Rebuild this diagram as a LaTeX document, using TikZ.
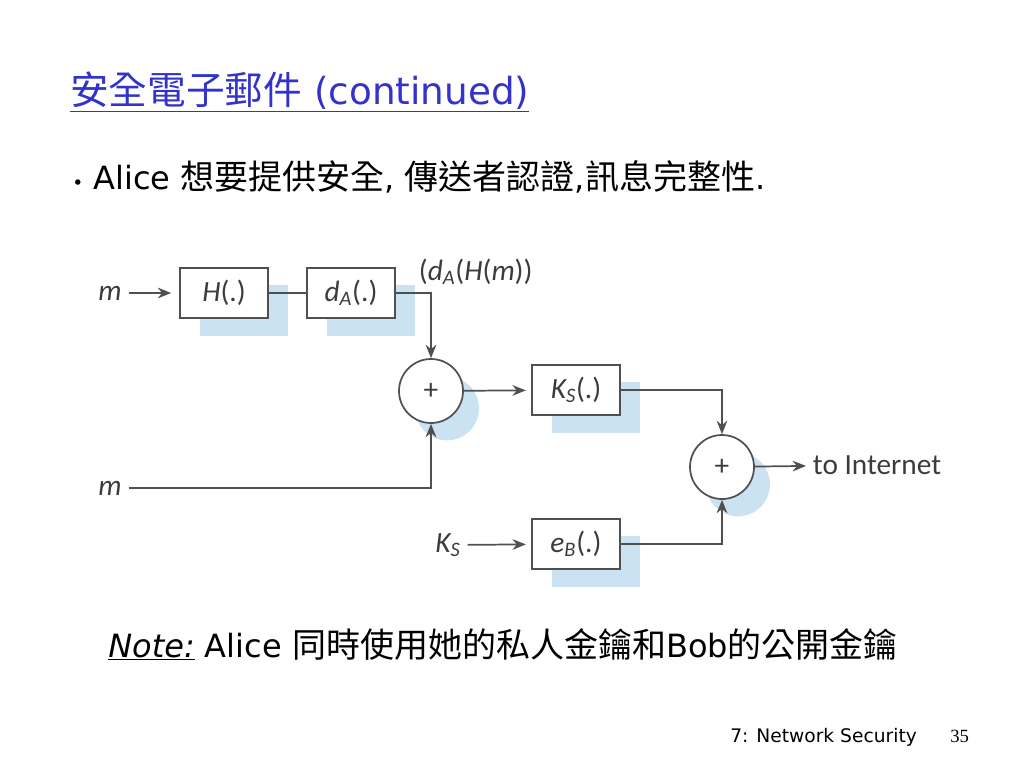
\documentclass[tikz,border=0pt]{standalone}
\usepackage{fontspec}
\setmainfont{DejaVu Sans}
\newfontfamily\cjk{Noto Sans CJK TC}
\newfontfamily\diagfont{Carlito}
\newfontfamily\pagefont{Liberation Serif}
\usetikzlibrary{arrows.meta, shadows}
\definecolor{titleblue}{RGB}{51,51,204}
\definecolor{shadeblue}{RGB}{202,226,242}
\definecolor{linegray}{RGB}{80,80,80}
\definecolor{textgray}{RGB}{60,60,60}
\newcommand{\lbl}[2]{{\itshape #1}\textsubscript{\itshape #2}}
\newcommand{\zh}[1]{{\cjk\fontsize{25.5}{28}\selectfont #1}}

\begin{document}
\begin{tikzpicture}[x=0.75pt, y=-0.75pt, >={Stealth[length=10pt,width=8pt]}, every node/.style={inner sep=0pt}]
\tikzstyle{diag} = [font=\diagfont\fontsize{22}{24}\selectfont, text=textgray, inner sep=5pt]
\tikzstyle{block} = [diag, rectangle, draw=linegray, fill=white, line width=1.3pt, minimum width=66pt, minimum height=38pt, drop shadow={shadow xshift=15pt, shadow yshift=-13pt, fill=shadeblue, opacity=1}]
\tikzstyle{adder} = [diag, circle, draw=linegray, fill=white, line width=1.3pt, minimum size=48pt, drop shadow={shadow xshift=12pt, shadow yshift=-13pt, fill=shadeblue, opacity=1}]
\tikzstyle{wire} = [draw=linegray, line width=1.3pt]

\useasboundingbox (0,0) rectangle (1024,768);

% title and bullet
\node[anchor=base west, text=titleblue, font=\fontsize{28}{34}\selectfont] (title) at (70,104) {\underline{{\cjk\fontsize{29}{34}\selectfont 安全電子郵件} (continued)}};
\node[anchor=base west, font=\fontsize{24}{28}\selectfont] (alice) at (72,189) {{\fontsize{14}{14}\selectfont •} Alice \zh{想要提供安全}, \zh{傳送者認證},\zh{訊息完整性}.};

% diagram
\node[diag] (mtop) at (110,293) {\itshape m};
\node[block] (hash) at (224,293) {{\itshape H}(.)};
\node[block] (sign) at (351,293) {\lbl{d}{A}(.)};
\node[diag, anchor=west] (sigout) at (412,272) {(\lbl{d}{A}({\itshape H}({\itshape m}))};
\node[adder] (sum1) at (431,391) {+};
\node[block] (enc) at (576,390) {\lbl{K}{S}(.)};
\node[diag] (mbot) at (110,488) {\itshape m};
\node[diag] (ksin) at (448,545) {\lbl{K}{S}};
\node[block] (pub) at (576,544) {\lbl{e}{B}(.)};
\node[adder] (sum2) at (722,467) {+};
\node[diag, anchor=west] (net) at (806,465) {to Internet};

\draw[wire, ->, shorten >=6pt] (mtop) -- (hash);
\draw[wire] (hash) -- (sign);
\draw[wire, ->] (sign) -| (sum1);
\draw[wire, ->, shorten >=4pt] (sum1) -- (enc);
\draw[wire, ->] (mbot) -| (sum1);
\draw[wire, ->] (enc) -| (sum2);
\draw[wire, ->, shorten >=4pt] (ksin) -- (pub);
\draw[wire, ->] (pub) -| (sum2);
\draw[wire, ->] (sum2) -- (net);

% note and footer
\node[anchor=base west, font=\fontsize{24}{28}\selectfont] (note) at (108,657) {\underline{\itshape Note:} Alice \zh{同時使用她的私人金鑰和}Bob\zh{的公開金鑰}};
\node[anchor=base west, font=\fontsize{14}{16}\selectfont] (footer) at (730,742) {7: Network Security};
\node[anchor=base west, font=\pagefont\fontsize{14}{16}\selectfont] (pagenum) at (950,742) {35};

\end{tikzpicture}
\end{document}
